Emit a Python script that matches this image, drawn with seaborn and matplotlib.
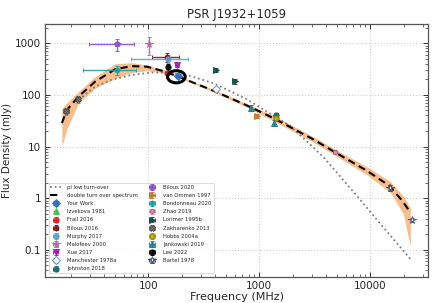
import numpy as np
import pandas as pd
import matplotlib
matplotlib.use("Agg")
import matplotlib.pyplot as plt
import seaborn as sns
from matplotlib.patches import Ellipse
from matplotlib.ticker import FuncFormatter, LogLocator

# ---------------- data ----------------
title = "PSR J1932+1059"

# double turn-over spectrum fit (dashed) and its uncertainty band
fit_freq = [16.7, 18.5, 23.6, 33.3, 50.5, 71, 97, 142, 186, 385, 780, 1337,
            3062, 4840, 9400, 15140, 19800, 22900]
fit_flux = [28.4, 51, 93, 181, 314, 360, 352, 282, 226, 121, 62, 35.6,
            13.8, 7.7, 3.36, 1.69, 0.84, 0.53]
band_lo = [10, 22, 70, 135, 210, 270, 295, 265, 218, 114, 57, 31.5,
           12.2, 6.7, 2.8, 1.3, 0.5, 0.12]
band_hi = [55, 70, 116, 226, 400, 420, 380, 300, 235, 128, 67, 40,
           15.5, 8.8, 4.0, 2.1, 1.1, 0.65]

# pl low turn-over (dotted)
pl_freq = [23.6, 33.3, 47, 71, 108, 137, 223, 387, 775, 1545, 1900, 3085,
           3800, 7600, 11500, 23000]
pl_flux = [80, 145, 195, 244, 270, 270, 244, 168, 82, 33, 25, 9.5,
           6.2, 1.1, 0.38, 0.066]

# references (legend order)
ref_names = ["Your Work", "Izvekova 1981", "Frail 2016", "Bilous 2016", "Murphy 2017",
             "Malofeev 2000", "Xue 2017", "Manchester 1978a", "Johnston 2018",
             "Bilous 2020", "van Ommen 1997", "Bondonneau 2020", "Zhao 2019",
             "Lorimer 1995b", "Zakharenko 2013", "Hobbs 2004a", "Jankowski 2019",
             "Lee 2022", "Bartel 1978"]
ref_colors = ["#2f6fc0", "#3cc43c", "#e02020", "#7a1a1a", "#5aa0d8",
              "#b06aa8", "#a020b0", "#ffffff", "#1d6b6b",
              "#8a50d0", "#c07828", "#18a0a0", "#d890b0",
              "#104848", "#808080", "#c0b000", "#207f90",
              "#000000", "#ffffff"]
ref_edges = ["#2f6fc0", "#3cc43c", "#e02020", "#7a1a1a", "#5aa0d8",
             "#b06aa8", "#a020b0", "#5a8ac0", "#1d6b6b",
             "#8a50d0", "#c07828", "#18a0a0", "#b05080",
             "#104848", "#404040", "#807000", "#207f90",
             "#000000", "#3a4c70"]
ref_markers = ["D", "^", "o", "h", "o", "*", "v", "D", "o",
               "p", ">", "h", "8", ">", "X", "o", "^", "o", "*"]

# measured points: reference, frequency (MHz), flux (mJy), errors
pt_ref = ["Zakharenko 2013", "Zakharenko 2013", "Bondonneau 2020", "Bilous 2020",
          "Malofeev 2000", "Bilous 2016", "Murphy 2017", "Lee 2022", "Frail 2016",
          "Xue 2017", "Your Work", "Lorimer 1995b", "Manchester 1978a",
          "Lorimer 1995b", "Jankowski 2019", "van Ommen 1997", "Hobbs 2004a",
          "Johnston 2018", "Jankowski 2019", "Zhao 2019", "Bartel 1978", "Bartel 1978"]
pt_freq = [18.2, 23.5, 52, 52, 102, 148, 150, 150, 147, 182, 185, 408, 408,
           610, 843, 950, 1400, 1400, 1360, 4850, 14900, 23500]
pt_flux = [49, 83, 302, 950, 950, 540, 500, 345, 265, 378, 232, 302, 130,
           186, 56, 39, 36, 41, 29, 8.0, 1.6, 0.38]
pt_ferr = [1, 1, 26, 23, 0, 40, 80, 0, 0, 8, 6, 0, 0, 0, 0, 0, 0, 0, 0, 0, 0, 0]
pt_serr = [8, 12, 60, 250, 350, 110, 90, 50, 15, 30, 15, 25, 12,
           20, 7, 3, 3, 4, 4, 0.6, 0.2, 0.04]

# ---------------- plotting ----------------
sns.set_theme(style="ticks")
plt.rcParams["font.family"] = ["DejaVu Sans"]

fig = plt.figure(figsize=(4.34, 3.03), dpi=100)
ax = fig.add_axes([0.104, 0.086, 0.882, 0.835])
ax.set_xscale("log")
ax.set_yscale("log")
xmin, xmax = 11.8, 33000
ymin, ymax = 0.030, 2360
ax.set_xlim(xmin, xmax)
ax.set_ylim(ymin, ymax)

ax.fill_between(fit_freq, band_lo, band_hi, color="#f6a765", alpha=0.75,
                linewidth=0, zorder=1)
pl_df = pd.DataFrame({"freq": pl_freq, "flux": pl_flux})
fit_df = pd.DataFrame({"freq": fit_freq, "flux": fit_flux})
sns.lineplot(data=pl_df, x="freq", y="flux", ax=ax, color="#808080", lw=1.3,
             linestyle=(0, (1, 1.6)), label="pl low turn-over", zorder=2)
sns.lineplot(data=fit_df, x="freq", y="flux", ax=ax, color="black", lw=1.5,
             linestyle=(0, (3.5, 2.2)), label="double turn over spectrum", zorder=3)

pts = pd.DataFrame({"ref": pt_ref, "freq": pt_freq, "flux": pt_flux,
                    "ferr": pt_ferr, "serr": pt_serr})
for name, col, ec, mk in zip(ref_names, ref_colors, ref_edges, ref_markers):
    sub = pts[pts["ref"] == name]
    ecol = ec if col == "#ffffff" else col
    ms = 5.5 if mk == "*" else 3.8
    ax.errorbar(sub["freq"].to_numpy(), sub["flux"].to_numpy(),
                xerr=sub["ferr"].to_numpy(), yerr=sub["serr"].to_numpy(),
                fmt=mk, color=ecol, mfc=col, mec=ec, ms=ms, mew=0.7,
                elinewidth=1.0, capsize=1.5, capthick=0.8, label=name, zorder=4,
                alpha=0.9)

# circle around "Your Work"
yw_f, yw_s = pt_freq[pt_ref.index("Your Work")], pt_flux[pt_ref.index("Your Work")]
cx = (np.log10(yw_f) - np.log10(xmin)) / (np.log10(xmax) - np.log10(xmin))
cy = (np.log10(yw_s) - np.log10(ymin)) / (np.log10(ymax) - np.log10(ymin))
ax.add_patch(Ellipse((cx - 0.004, cy - 0.003), 0.046, 0.048, transform=ax.transAxes,
                     fill=False, edgecolor="black", lw=2.2, zorder=6))

fmt = FuncFormatter(lambda v, p: "%g" % v)
ax.xaxis.set_major_formatter(fmt)
ax.yaxis.set_major_formatter(fmt)
ax.xaxis.set_major_locator(LogLocator(base=10, numticks=10))
ax.yaxis.set_major_locator(LogLocator(base=10, numticks=10))
ax.xaxis.set_minor_locator(LogLocator(base=10, subs=np.arange(2, 10), numticks=20))
ax.yaxis.set_minor_locator(LogLocator(base=10, subs=np.arange(2, 10), numticks=20))
ax.tick_params(which="both", direction="in", top=True, right=True, color="#333333")
ax.tick_params(which="major", length=3.5, width=0.7, labelsize=7.5, pad=3)
ax.tick_params(which="minor", length=2, width=0.5)
ax.grid(True, which="major", linestyle=(0, (1, 2)), color="#c8c8c8", lw=0.7)
for s in ax.spines.values():
    s.set_color("#555555")
    s.set_linewidth(0.9)

ax.set_xlabel("Frequency (MHz)", fontsize=8, labelpad=1)
ax.set_ylabel("Flux Density (mJy)", fontsize=7.5, labelpad=2)
ax.set_title(title, fontsize=8.5, pad=4)

leg = ax.legend(loc="lower left", ncol=2, fontsize=3.8, frameon=True,
                handlelength=2.0, labelspacing=0.6, columnspacing=1.6,
                borderpad=0.35, handletextpad=1.2, bbox_to_anchor=(0.002, 0.004))
leg.get_frame().set_edgecolor("#cccccc")
leg.get_frame().set_linewidth(0.6)

fig.savefig("out.png", dpi=100)
